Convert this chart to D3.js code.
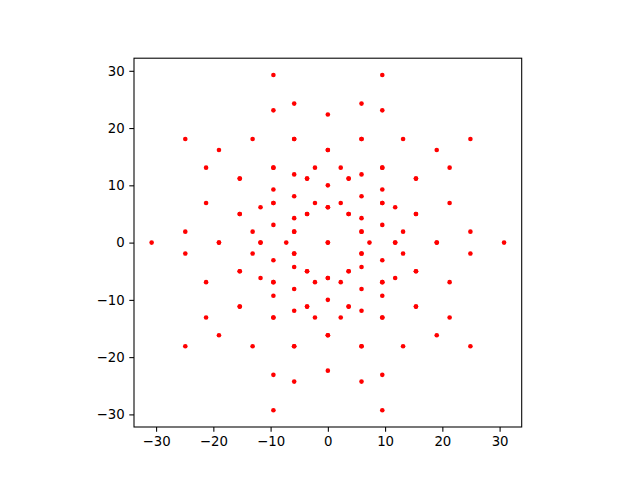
<!DOCTYPE html>
<html>
<head>
<meta charset="utf-8">
<script src="https://cdn.jsdelivr.net/npm/d3@7"></script>
<style>
  body { margin: 0; background: #fff; }
  svg { display: block; }
  text { font-family: "DejaVu Sans", sans-serif; }
</style>
</head>
<body>
<svg id="chart" width="640" height="480"></svg>
<script>
// Tick labels
const xTicks = [-30, -20, -10, 0, 10, 20, 30];
const yTicks = [-30, -20, -10, 0, 10, 20, 30];

// Points [x, y]; repeated entries are overlapping points in the original
const upperLeft = [
  [-9.51, 29.27], [-5.88, 24.27], [-9.51, 23.09], [-24.9, 18.09], [-13.14, 18.09],
  [-5.88, 18.09], [-5.88, 18.09], [-19.02, 16.18], [-21.27, 13.09], [-9.51, 13.09],
  [-9.51, 13.09], [-2.25, 13.09], [-5.88, 11.91], [-3.63, 11.18], [-3.63, 11.18],
  [-15.39, 11.18], [-15.39, 11.18], [-9.51, 9.27], [-5.88, 8.09], [-21.27, 6.91],
  [-9.51, 6.91], [-9.51, 6.91], [-2.25, 6.91], [-11.76, 6.18], [-15.39, 5.0],
  [-15.39, 5.0], [-3.63, 5.0], [-3.63, 5.0], [-5.88, 4.27], [-9.51, 3.09],
  [-24.9, 1.91], [-13.14, 1.91], [-5.88, 1.91], [-5.88, 1.91]
];
const upperRight = [
  [9.51, 29.27], [5.88, 24.27], [9.51, 23.09], [24.9, 18.09], [13.14, 18.09],
  [5.88, 18.09], [5.88, 18.09], [19.02, 16.18], [21.27, 13.09], [9.51, 13.09],
  [9.51, 13.09], [2.25, 13.09], [5.88, 11.91], [3.63, 11.18], [3.63, 11.18],
  [15.39, 11.18], [15.39, 11.18], [9.51, 9.27], [5.88, 8.09], [21.27, 6.91],
  [9.51, 6.91], [9.51, 6.91], [2.25, 6.91], [11.76, 6.18], [15.39, 5.0],
  [15.39, 5.0], [3.63, 5.0], [3.63, 5.0], [5.88, 4.27], [9.51, 3.09],
  [24.9, 1.91], [13.14, 1.91], [5.88, 1.91], [5.88, 1.91]
];
const lowerLeft = [
  [-9.51, -29.27], [-5.88, -24.27], [-9.51, -23.09], [-24.9, -18.09], [-13.14, -18.09],
  [-5.88, -18.09], [-5.88, -18.09], [-19.02, -16.18], [-21.27, -13.09], [-9.51, -13.09],
  [-9.51, -13.09], [-2.25, -13.09], [-5.88, -11.91], [-3.63, -11.18], [-3.63, -11.18],
  [-15.39, -11.18], [-15.39, -11.18], [-9.51, -9.27], [-5.88, -8.09], [-21.27, -6.91],
  [-9.51, -6.91], [-9.51, -6.91], [-2.25, -6.91], [-11.76, -6.18], [-15.39, -5.0],
  [-15.39, -5.0], [-3.63, -5.0], [-3.63, -5.0], [-5.88, -4.27], [-9.51, -3.09],
  [-24.9, -1.91], [-13.14, -1.91], [-5.88, -1.91], [-5.88, -1.91]
];
const lowerRight = [
  [9.51, -29.27], [5.88, -24.27], [9.51, -23.09], [24.9, -18.09], [13.14, -18.09],
  [5.88, -18.09], [5.88, -18.09], [19.02, -16.18], [21.27, -13.09], [9.51, -13.09],
  [9.51, -13.09], [2.25, -13.09], [5.88, -11.91], [3.63, -11.18], [3.63, -11.18],
  [15.39, -11.18], [15.39, -11.18], [9.51, -9.27], [5.88, -8.09], [21.27, -6.91],
  [9.51, -6.91], [9.51, -6.91], [2.25, -6.91], [11.76, -6.18], [15.39, -5.0],
  [15.39, -5.0], [3.63, -5.0], [3.63, -5.0], [5.88, -4.27], [9.51, -3.09],
  [24.9, -1.91], [13.14, -1.91], [5.88, -1.91], [5.88, -1.91]
];
const axisPoints = [
  [0, 22.36], [0, 16.18], [0, 16.18], [0, 10], [0, 6.18], [0, 6.18],
  [0, -22.36], [0, -16.18], [0, -16.18], [0, -10], [0, -6.18], [0, -6.18],
  [-30.78, 0], [-19.02, 0], [-19.02, 0], [-11.76, 0], [-11.76, 0], [-7.27, 0],
  [0, 0], [0, 0],
  [7.27, 0], [11.76, 0], [11.76, 0], [19.02, 0], [19.02, 0], [30.78, 0]
];

const points = [...upperLeft, ...upperRight, ...lowerLeft, ...lowerRight, ...axisPoints];

const svg = d3.select("#chart");
const plotLeft = 134, plotRight = 521.7, plotTop = 58.2, plotBottom = 427;

const x = d3.scaleLinear().domain([-33.86, 33.86]).range([plotLeft, plotRight]);
const y = d3.scaleLinear().domain([-32.2, 32.2]).range([plotBottom, plotTop]);

// points
svg.append("g")
  .selectAll("circle")
  .data(points)
  .join("circle")
  .attr("cx", d => x(d[0]))
  .attr("cy", d => y(d[1]))
  .attr("r", 2.3)
  .attr("fill", "#ff0000");

const fmt = d => (d < 0 ? "\u2212" + Math.abs(d) : String(d));

const xAxis = svg.append("g")
  .attr("transform", `translate(0,${plotBottom})`)
  .call(d3.axisBottom(x).tickValues(xTicks).tickFormat(fmt).tickSize(4.7).tickPadding(4.7));
const yAxis = svg.append("g")
  .attr("transform", `translate(${plotLeft},0)`)
  .call(d3.axisLeft(y).tickValues(yTicks).tickFormat(fmt).tickSize(4.7).tickPadding(4.7));

[xAxis, yAxis].forEach(a => {
  a.select(".domain").remove();
  a.selectAll(".tick line").attr("stroke", "#000").attr("stroke-width", 1.07);
  a.selectAll(".tick text")
    .attr("fill", "#000")
    .style("font-family", "'DejaVu Sans', sans-serif")
    .style("font-size", "13.3px");
});

// frame
svg.append("rect")
  .attr("x", plotLeft).attr("y", plotTop)
  .attr("width", plotRight - plotLeft).attr("height", plotBottom - plotTop)
  .attr("fill", "none").attr("stroke", "#000").attr("stroke-width", 1.07);
</script>
</body>
</html>
